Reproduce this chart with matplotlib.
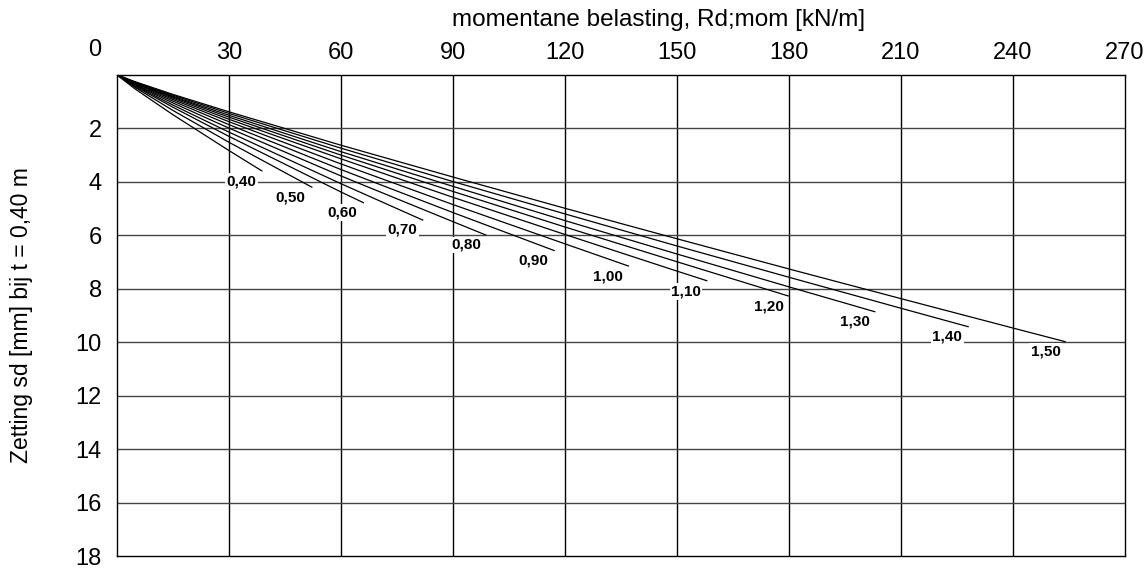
import matplotlib
matplotlib.use('Agg')
import matplotlib.pyplot as plt

plt.rcParams['font.family'] = ['Liberation Sans', 'DejaVu Sans']

# curve names (t) and points: load [kN/m] and settlement [mm]
curve_labels = ['0,40', '0,50', '0,60', '0,70', '0,80', '0,90',
                '1,00', '1,10', '1,20', '1,30', '1,40', '1,50']

load_040 = [0, 5, 15, 30, 38.8]
sett_040 = [0, 0.54, 1.49, 2.83, 3.59]
load_050 = [0, 5, 15, 30, 52.2]
sett_050 = [0, 0.48, 1.33, 2.52, 4.20]
load_060 = [0, 5, 15, 30, 60, 66.0]
sett_060 = [0, 0.44, 1.21, 2.30, 4.38, 4.78]
load_070 = [0, 5, 15, 30, 60, 81.9]
sett_070 = [0, 0.41, 1.13, 2.14, 4.07, 5.43]
load_080 = [0, 5, 15, 30, 60, 90, 98.8]
sett_080 = [0, 0.38, 1.05, 1.99, 3.78, 5.49, 5.99]
load_090 = [0, 5, 15, 30, 60, 90, 117.1]
sett_090 = [0, 0.36, 0.98, 1.86, 3.54, 5.15, 6.57]
load_100 = [0, 5, 15, 30, 60, 90, 120, 137.0]
sett_100 = [0, 0.33, 0.92, 1.75, 3.33, 4.85, 6.32, 7.15]
load_110 = [0, 5, 15, 30, 60, 90, 120, 150, 158.0]
sett_110 = [0, 0.32, 0.87, 1.66, 3.14, 4.58, 5.97, 7.34, 7.70]
load_120 = [0, 5, 15, 30, 60, 90, 120, 150, 179.8]
sett_120 = [0, 0.30, 0.83, 1.58, 3.00, 4.36, 5.69, 6.99, 8.27]
load_130 = [0, 5, 15, 30, 60, 90, 120, 150, 180, 203.0]
sett_130 = [0, 0.29, 0.80, 1.51, 2.87, 4.17, 5.45, 6.70, 7.93, 8.86]
load_140 = [0, 5, 15, 30, 60, 90, 120, 150, 180, 210, 228.0]
sett_140 = [0, 0.28, 0.76, 1.44, 2.74, 3.99, 5.20, 6.40, 7.57, 8.73, 9.42]
load_150 = [0, 5, 15, 30, 60, 90, 120, 150, 180, 210, 240, 254.0]
sett_150 = [0, 0.26, 0.73, 1.38, 2.63, 3.82, 4.99, 6.13, 7.26, 8.37, 9.47, 9.98]

# where the curve names sit (load, settlement)
label_x = [33.3, 46.5, 60.4, 76.5, 93.5, 111.5, 131.6, 152.4, 174.7, 197.7, 222.4, 248.8]
label_y = [4.00, 4.58, 5.15, 5.80, 6.36, 6.95, 7.55, 8.11, 8.67, 9.23, 9.79, 10.35]

x_ticks = [30, 60, 90, 120, 150, 180, 210, 240, 270]
y_ticks = [2, 4, 6, 8, 10, 12, 14, 16, 18]

loads = [load_040, load_050, load_060, load_070, load_080, load_090,
         load_100, load_110, load_120, load_130, load_140, load_150]
setts = [sett_040, sett_050, sett_060, sett_070, sett_080, sett_090,
         sett_100, sett_110, sett_120, sett_130, sett_140, sett_150]

fig = plt.figure(figsize=(11.48, 5.68), dpi=100)
ax = fig.add_axes([0.1019, 0.0211, 0.878, 0.847])

ax.set_xlim(0, 270)
ax.set_ylim(18, 0)

# grid: vertical lines black, horizontal ones a bit lighter
for x in x_ticks[:-1]:
    ax.axvline(x, color='black', lw=1.0, zorder=1)
for y in y_ticks[:-1]:
    ax.axhline(y, color='#444444', lw=1.0, zorder=1)

for i in range(len(loads)):
    ax.plot(loads[i], setts[i], color='black', lw=0.9, zorder=2)
    ax.text(label_x[i], label_y[i], curve_labels[i], fontsize=11, fontweight='bold',
            ha='center', va='center', zorder=3,
            bbox=dict(facecolor='white', edgecolor='none', pad=1.0))

ax.xaxis.tick_top()
ax.set_xticks(x_ticks)
ax.set_xticklabels([str(v) for v in x_ticks])
ax.set_yticks(y_ticks)
ax.set_yticklabels([str(v) for v in y_ticks])
ax.tick_params(axis='both', length=0, labelsize=17)
ax.tick_params(axis='x', pad=8)
ax.tick_params(axis='y', pad=11)

for side in ax.spines.values():
    side.set_color('black')
    side.set_linewidth(1.0)

fig.text(95 / 1148, 1 - 50 / 568, '0', fontsize=17, ha='center', va='center')
fig.text(659 / 1148, 1 - 20 / 568, 'momentane belasting, Rd;mom [kN/m]',
         fontsize=17.5, ha='center', va='center')
fig.text(22 / 1148, 1 - 315 / 568, 'Zetting sd [mm] bij t = 0,40 m',
         fontsize=16.5, ha='center', va='center', rotation=90)

fig.savefig('out.png', dpi=100)
